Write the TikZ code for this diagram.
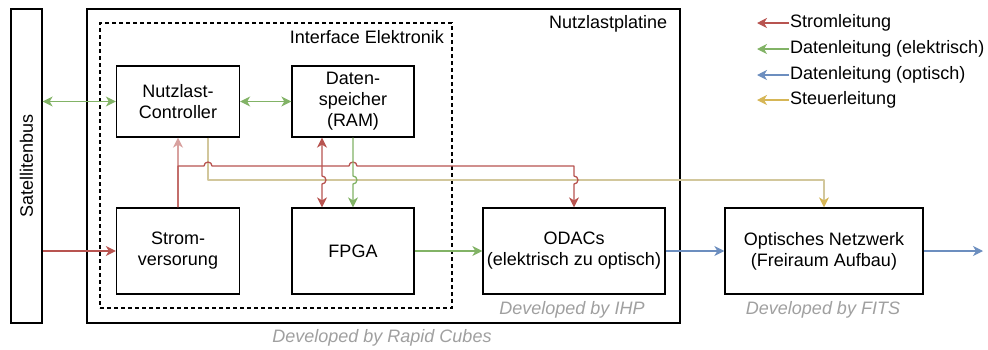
\documentclass[tikz,border=0pt]{standalone}
\usepackage{fontspec}
\setmainfont{Liberation Sans}
\usetikzlibrary{arrows.meta}
\definecolor{pwr}{HTML}{B85450}
\definecolor{dat}{HTML}{82B366}
\definecolor{opt}{HTML}{6C8EBF}
\definecolor{ctl}{HTML}{D6B656}
\definecolor{ctlwire}{HTML}{D2C79C}
\definecolor{note}{HTML}{A0A0A0}
\tikzset{
  txt/.style={font=\fontsize{18}{21}\selectfont, align=center},
  block/.style={txt, draw=black, line width=1.3pt, inner sep=0pt},
  wire/.style={line width=1.3pt, line join=round},
  tip/.style={-{Stealth[length=10pt,width=10pt,inset=3pt]}},
  tips/.style={{Stealth[length=10pt,width=10pt,inset=3pt]}-{Stealth[length=10pt,width=10pt,inset=3pt]}},
  remark/.style={txt, text=note, font=\fontsize{18}{21}\selectfont\itshape},
  legend/.style={txt, anchor=west, inner sep=1pt},
}
\begin{document}
\begin{tikzpicture}[x=1pt,y=-1pt]
\useasboundingbox[fill=white] (0,0) rectangle (988,349);

% enclosures
\node[block, minimum width=31pt, minimum height=314pt] (satbus) at (26.5,166) {};
\node[txt, rotate=90] at (satbus.center) {Satellitenbus};
\node[draw=black, line width=1.3pt, minimum width=593pt, minimum height=314pt, inner sep=0pt] (platine) at (383.5,166) {};
\node[txt, anchor=north east] at ([xshift=-10pt,yshift=-4pt]platine.north east) {Nutzlastplatine};
\node[draw=black, dash pattern=on 4pt off 3pt, line width=1.1pt, minimum width=352pt, minimum height=285pt, inner sep=0pt] (iface) at (276,165.5) {};
\node[txt, anchor=north east] at ([xshift=-5pt,yshift=-4pt]iface.north east) {Interface Elektronik};

% function blocks
\node[block, minimum width=123pt, minimum height=71pt] (ctrl) at (178,101.5) {Nutzlast-\\Controller};
\node[block, minimum width=122pt, minimum height=71pt] (ram) at (353,101.5) {Daten-\\speicher\\(RAM)};
\node[block, minimum width=123pt, minimum height=86pt] (strom) at (178,251) {Strom-\\versorung};
\node[block, minimum width=122pt, minimum height=86pt] (fpga) at (353,251) {FPGA};
\node[block, minimum width=182pt, minimum height=86pt] (odac) at (574,251) {ODACs\\(elektrisch zu optisch)};
\node[block, minimum width=198pt, minimum height=86pt] (optnet) at (824,251) {Optisches Netzwerk\\(Freiraum Aufbau)};

% credits
\node[remark] at (382,338) {Developed by Rapid Cubes};
\node[remark] at (572,310) {Developed by IHP};
\node[remark] at (823,310) {Developed by FITS};

% control line (drawn first, the others hop over it)
\draw[wire, ctlwire, -{Stealth[length=10pt,width=10pt,inset=3pt,color=ctl]}]
  ([xshift=30pt]ctrl.south) -- (208,180) -- (824,180) -- (optnet.north);

% power distribution
\draw[wire, pwr, tip] (satbus.east |- strom.west) -- (strom.west);
\draw[wire, pwr!55, tip] (strom.north) -- (ctrl.south);
\coordinate (pwrbus) at (178,166);
\draw[wire, pwr, tip] (strom.north) -- (pwrbus) -- (204,166) arc[start angle=180, end angle=360, radius=4]
  -- (349,166) arc[start angle=180, end angle=360, radius=4]
  -- (574,166) -- (574,176) arc[start angle=-90, end angle=90, radius=4] -- (odac.north);
\draw[wire, pwr, tips] ([xshift=-31pt]ram.south) -- (322,176) arc[start angle=-90, end angle=90, radius=4] -- ([xshift=-31pt]fpga.north);

% electrical data
\draw[wire, dat, tips] (satbus.east |- ctrl.west) -- (ctrl.west);
\draw[wire, dat, tips] (ctrl.east) -- (ram.west);
\draw[wire, dat, tip] (ram.south) -- (353,176) arc[start angle=-90, end angle=90, radius=4] -- (fpga.north);
\draw[wire, dat, tip] (fpga.east) -- (odac.west);

% optical data
\coordinate (outport) at (983,251);
\draw[wire, opt, tip] (odac.east) -- (optnet.west);
\draw[wire, opt, tip] (optnet.east) -- (outport);

% legend
\node[legend] (l1) at (789,23) {Stromleitung};
\node[legend] (l2) at (789,49) {Datenleitung (elektrisch)};
\node[legend] (l3) at (789,75) {Datenleitung (optisch)};
\node[legend] (l4) at (789,100) {Steuerleitung};
\draw[wire, pwr, tip] (l1.west) -- ++(-32,0);
\draw[wire, dat, tip] (l2.west) -- ++(-32,0);
\draw[wire, opt, tip] (l3.west) -- ++(-32,0);
\draw[wire, ctl, tip] (l4.west) -- ++(-32,0);
\end{tikzpicture}
\end{document}
